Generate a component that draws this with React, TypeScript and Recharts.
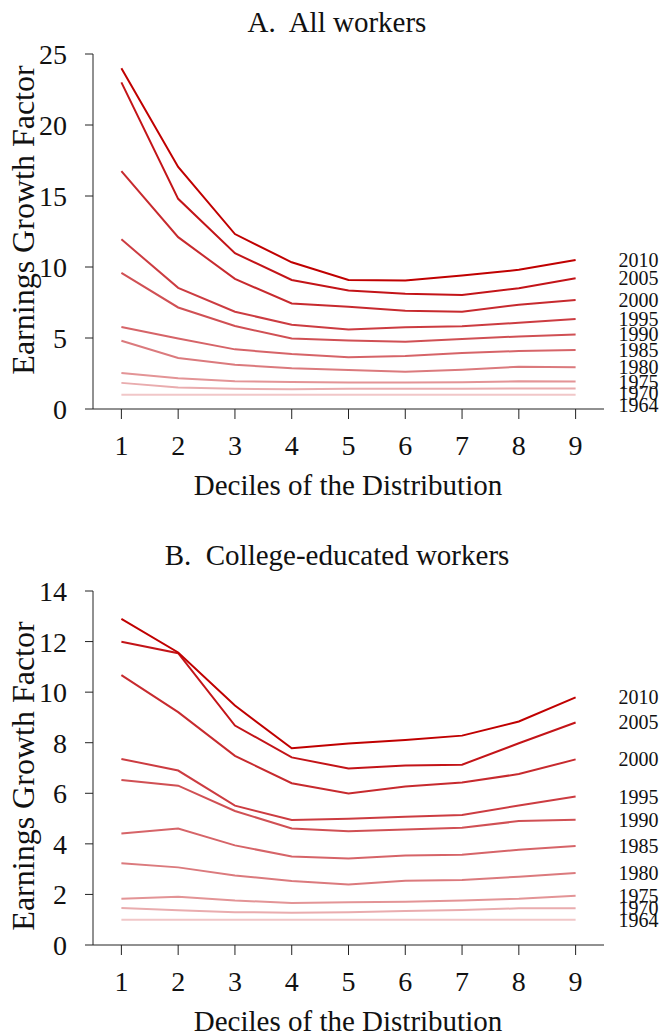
import React from 'react';
import { ComposedChart, Line, Scatter, XAxis, YAxis } from 'recharts';

const deciles = [1, 2, 3, 4, 5, 6, 7, 8, 9];
const years = ['2010', '2005', '2000', '1995', '1990', '1985', '1980', '1975', '1970', '1964'];
const lineColors = ['#c00000', '#c31418', '#c72a2e', '#cc3c41', '#d05054', '#d66468', '#db7a7d', '#e39496', '#e9acae', '#f1c7c8'];

// Panel A: all workers
const all2010 = [24.0, 17.05, 12.32, 10.33, 9.09, 9.05, 9.4, 9.8, 10.5];
const all2005 = [23.0, 14.8, 10.97, 9.09, 8.34, 8.11, 8.02, 8.51, 9.21];
const all2000 = [16.75, 12.1, 9.16, 7.43, 7.2, 6.92, 6.85, 7.34, 7.67];
const all1995 = [11.95, 8.53, 6.85, 5.93, 5.6, 5.75, 5.82, 6.07, 6.33];
const all1990 = [9.58, 7.15, 5.84, 4.97, 4.83, 4.74, 4.93, 5.11, 5.25];
const all1985 = [5.77, 4.97, 4.2, 3.87, 3.64, 3.73, 3.94, 4.08, 4.16];
const all1980 = [4.81, 3.59, 3.12, 2.87, 2.75, 2.63, 2.77, 2.98, 2.94];
const all1975 = [2.54, 2.17, 1.95, 1.91, 1.86, 1.86, 1.88, 1.95, 1.93];
const all1970 = [1.84, 1.51, 1.42, 1.39, 1.42, 1.42, 1.43, 1.45, 1.45];
const all1964 = [1, 1, 1, 1, 1, 1, 1, 1, 1];

// Panel B: college-educated workers
const col2010 = [12.9, 11.57, 9.47, 7.78, 7.97, 8.11, 8.28, 8.84, 9.79];
const col2005 = [11.99, 11.54, 8.68, 7.42, 6.98, 7.1, 7.13, 7.98, 8.8];
const col2000 = [10.67, 9.21, 7.48, 6.4, 5.99, 6.27, 6.43, 6.76, 7.34];
const col1995 = [7.36, 6.9, 5.51, 4.94, 4.99, 5.07, 5.14, 5.52, 5.87];
const col1990 = [6.53, 6.3, 5.3, 4.61, 4.5, 4.57, 4.64, 4.9, 4.95];
const col1985 = [4.41, 4.61, 3.94, 3.5, 3.42, 3.54, 3.57, 3.77, 3.92];
const col1980 = [3.23, 3.07, 2.75, 2.53, 2.39, 2.54, 2.57, 2.7, 2.85];
const col1975 = [1.83, 1.91, 1.76, 1.66, 1.69, 1.71, 1.76, 1.83, 1.95];
const col1970 = [1.46, 1.37, 1.3, 1.28, 1.3, 1.34, 1.38, 1.45, 1.45];
const col1964 = [1, 1, 1, 1, 1, 1, 1, 1, 1];

const allTicks = [0, 5, 10, 15, 20, 25];
const colTicks = [0, 2, 4, 6, 8, 10, 12, 14];

const allSeries = [all2010, all2005, all2000, all1995, all1990, all1985, all1980, all1975, all1970, all1964];
const colSeries = [col2010, col2005, col2000, col1995, col1990, col1985, col1980, col1975, col1970, col1964];

const FONT = "'Liberation Serif', 'Times New Roman', Times, serif";

const buildRows = (series: number[][]) =>
  deciles.map((d, i) => {
    const row: any = { x: d };
    years.forEach((y, k) => (row['y' + y] = series[k][i]));
    return row;
  });

// end labels, pushed down so they keep a minimum gap (top to bottom)
const buildLabels = (series: number[][], minGap: number) => {
  let prev = Infinity;
  return years.map((y, k) => {
    const last = series[k][series[k].length - 1];
    const v = Math.min(last, prev - minGap);
    prev = v;
    return { x: 9, y: v, name: y };
  });
};

const YearLabel = (props: any) => {
  const { cx, cy, payload } = props;
  return (
    <text x={cx + 43} y={cy} dy="0.35em" fontSize={20} fontFamily={FONT} fill="#111">
      {payload.name}
    </text>
  );
};

interface PanelProps {
  title: string;
  series: number[][];
  ticks: number[];
  yMax: number;
  height: number;
  topMargin: number;
  xAxisHeight: number;
  titleTop: number;
  yLabelCenter: number;
}

const Panel = ({ title, series, ticks, yMax, height, topMargin, xAxisHeight, titleTop, yLabelCenter }: PanelProps) => {
  const rows = buildRows(series);
  const plotH = height - topMargin - xAxisHeight;
  const labels = buildLabels(series, (11.7 * yMax) / plotH);
  const axisY = topMargin + plotH;
  const textStyle: React.CSSProperties = {
    position: 'absolute',
    fontFamily: FONT,
    color: '#111',
    whiteSpace: 'pre',
    lineHeight: 1,
  };

  return (
    <div style={{ position: 'relative', width: 664, height }}>
      <div style={{ ...textStyle, left: 337, top: titleTop, fontSize: 29, transform: 'translateX(-50%)' }}>
        {title}
      </div>
      <div
        style={{
          ...textStyle,
          left: 23,
          top: yLabelCenter,
          fontSize: 32,
          transform: 'translate(-50%, -50%) rotate(-90deg)',
        }}
      >
        Earnings Growth Factor
      </div>
      <div style={{ ...textStyle, left: 348, top: axisY + 62, fontSize: 29, transform: 'translateX(-50%)' }}>
        Deciles of the Distribution
      </div>
      <ComposedChart
        width={664}
        height={height}
        data={rows}
        margin={{ top: topMargin, right: 60, bottom: 0, left: 0 }}
      >
        <XAxis
          dataKey="x"
          type="number"
          domain={[0.5, 9.5]}
          ticks={deciles}
          interval={0}
          height={xAxisHeight}
          tickSize={10}
          tickMargin={16}
          axisLine={{ stroke: '#222' }}
          tickLine={{ stroke: '#222' }}
          tick={{ fontSize: 28, fontFamily: FONT, fill: '#111' }}
        />
        <YAxis
          type="number"
          domain={[0, yMax]}
          ticks={ticks}
          interval={0}
          width={93}
          tickSize={8}
          tickMargin={18}
          axisLine={{ stroke: '#222' }}
          tickLine={{ stroke: '#222' }}
          tick={{ fontSize: 28, fontFamily: FONT, fill: '#111' }}
        />
        {years
          .map((y, k) => (
            <Line
              key={y}
              type="linear"
              dataKey={'y' + y}
              stroke={lineColors[k]}
              strokeWidth={2}
              dot={false}
              activeDot={false}
              isAnimationActive={false}
            />
          ))
          .reverse()}
        <Scatter data={labels} dataKey="y" shape={<YearLabel />} isAnimationActive={false} />
      </ComposedChart>
    </div>
  );
};

export default function App() {
  return (
    <div style={{ position: 'absolute', left: 0, top: 0, width: 664, height: 1034, background: '#fff' }}>
      <Panel
        title="A.  All workers"
        series={allSeries}
        ticks={allTicks}
        yMax={25}
        height={490}
        topMargin={54}
        xAxisHeight={81}
        titleTop={8}
        yLabelCenter={220}
      />
      <Panel
        title="B.  College-educated workers"
        series={colSeries}
        ticks={colTicks}
        yMax={14}
        height={544}
        topMargin={101}
        xAxisHeight={89}
        titleTop={51}
        yLabelCenter={286}
      />
    </div>
  );
}
